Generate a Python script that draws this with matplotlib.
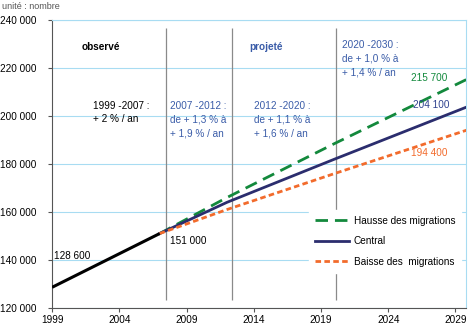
import matplotlib
matplotlib.use("Agg")
import matplotlib.pyplot as plt

plt.rcParams['font.family'] = ['Liberation Sans', 'DejaVu Sans']

# observed population
obs_years = [1999, 2007]
obs_values = [128600, 151000]

# projections by migration scenario
proj_years = [2007, 2012, 2020, 2030]
high_values = [151000, 166000, 188500, 215700]
central_values = [151000, 164000, 182000, 204100]
low_values = [151000, 161000, 176000, 194400]

x_ticks = [1999, 2004, 2009, 2014, 2019, 2024, 2029]
y_ticks = [120000, 140000, 160000, 180000, 200000, 220000, 240000]

GREEN = '#13893c'
NAVY = '#2b2d6e'
ORANGE = '#f26b2c'
BLUE_TXT = '#3a5ca8'
GRID = '#a8dcf2'
FS = 7.2


def fmt(v):
    return f"{v:,}".replace(",", " ")


fig = plt.figure(figsize=(4.69, 3.34), dpi=100)
ax = fig.add_axes([0.111, 0.078, 0.883, 0.862])

ax.set_xlim(1999, 2029.8)
ax.set_ylim(120000, 240000)

ax.set_yticks(y_ticks)
ax.set_yticklabels([fmt(v) for v in y_ticks], fontsize=FS)
ax.set_xticks(x_ticks)
ax.set_xticklabels([str(v) for v in x_ticks], fontsize=FS)
ax.tick_params(axis='both', length=3, width=0.8, color='#555555', pad=2)
ax.tick_params(axis='y', pad=8)

ax.grid(axis='y', color=GRID, linewidth=0.8)
ax.set_axisbelow(True)
for side in ['top', 'right']:
    ax.spines[side].set_color(GRID)
    ax.spines[side].set_linewidth(0.8)
for side in ['left', 'bottom']:
    ax.spines[side].set_color('#555555')
    ax.spines[side].set_linewidth(0.8)

# period separators
ax.vlines([2007.5, 2012.4, 2020.1], 123300, 236700, color='#8a8a8a', linewidth=0.9, zorder=1)

ax.plot(obs_years, obs_values, color='black', linewidth=2.2, solid_capstyle='butt', zorder=4)
ax.plot(proj_years, high_values, color=GREEN, linewidth=2, dashes=(4.5, 2.5),
        label='Hausse des migrations', zorder=3)
ax.plot(proj_years, central_values, color=NAVY, linewidth=2,
        label='Central', zorder=3)
ax.plot(proj_years, low_values, color=ORANGE, linewidth=2, dashes=(2, 1.2),
        label='Baisse des  migrations', zorder=3)

leg = ax.legend(loc='lower right', bbox_to_anchor=(1.0, 0.105), fontsize=FS,
                frameon=True, fancybox=False, edgecolor='white', framealpha=1,
                handlelength=3.4, handletextpad=0.5, labelspacing=1.05,
                borderpad=0.6)
leg.set_zorder(5)

# value labels
ax.text(1999.15, 141700, fmt(obs_values[0]), fontsize=FS, va='center')
ax.text(2007.8, 147900, fmt(obs_values[1]), fontsize=FS, va='center')
ax.text(2028.42, 215700, fmt(high_values[-1]), fontsize=FS,
        color=GREEN, ha='right', va='center')
ax.text(2028.57, 204400, fmt(central_values[-1]), fontsize=FS,
        color='#2f428f', ha='right', va='center')
ax.text(2028.42, 184500, fmt(low_values[-1]), fontsize=FS,
        color=ORANGE, ha='right', va='center')

# period annotations
ax.text(2002.6, 228900, 'observé', fontsize=FS, fontweight='bold', ha='center', va='center')
ax.text(2014.9, 228900, 'projeté', fontsize=FS, fontweight='bold', ha='center',
        va='center', color=BLUE_TXT)
ax.text(2002.05, 206300, '1999 -2007 :\n+ 2 % / an', fontsize=FS, va='top',
        linespacing=1.45)
ax.text(2007.8, 206300, '2007 -2012 :\nde + 1,3 % à\n+ 1,9 % / an', fontsize=FS,
        va='top', color=BLUE_TXT, linespacing=1.45)
ax.text(2014.0, 206300, '2012 -2020 :\nde + 1,1 % à\n+ 1,6 % / an', fontsize=FS,
        va='top', color=BLUE_TXT, linespacing=1.45)
ax.text(2020.55, 231700, '2020 -2030 :\nde + 1,0 % à\n+ 1,4 % / an', fontsize=FS,
        va='top', color=BLUE_TXT, linespacing=1.45)

fig.text(0.004, 0.994, 'unité : nombre', fontsize=6.5, color='#555555', va='top')

fig.savefig('out.png', dpi=100)
